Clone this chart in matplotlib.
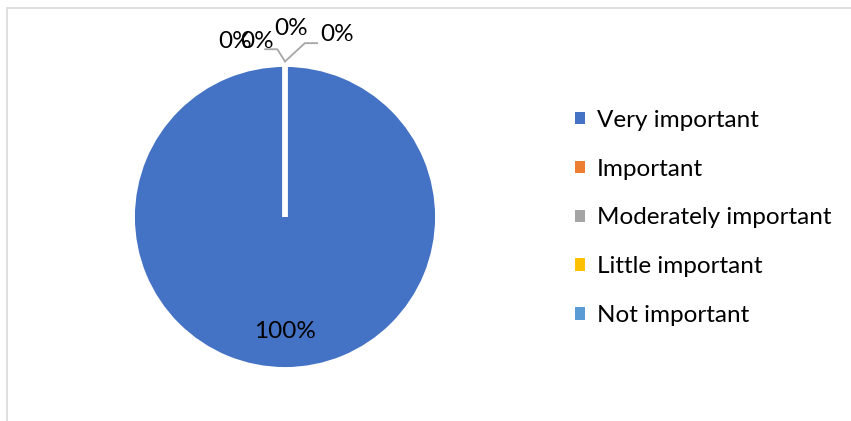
import matplotlib
matplotlib.use("Agg")
import matplotlib.pyplot as plt
from matplotlib.patches import Patch, Rectangle
import numpy as np

# survey answers (share of respondents, %)
categories = ["Very important", "Important", "Moderately important",
              "Little important", "Not important"]
values = [100, 0, 0, 0, 0]
colors = ["#4472C4", "#ED7D31", "#A5A5A5", "#FFC000", "#5B9BD5"]

# where the small 0% labels sit (axes data units, radius = 1)
zero_label_pos = [(-0.33, 1.15), (-0.18, 1.15), (0.04, 1.235), (0.34, 1.195)]

plt.rcParams['font.family'] = ['Lato', 'DejaVu Sans']
FS = 17.5

W, H = 851, 421
fig = plt.figure(figsize=(W / 100, H / 100), dpi=100)

# light frame round the chart area
fig.patches.append(Rectangle((7 / W, -0.1), 1.2, (H - 8) / H + 0.1,
                             transform=fig.transFigure, fill=False,
                             edgecolor="#D9D9D9", linewidth=1.2))

cx, cy, r = 285, 217, 152.5
ax = fig.add_axes([(cx - r) / W, (H - cy - r) / H, 2 * r / W, 2 * r / H])

wedges, _ = ax.pie(values, colors=colors, startangle=90, counterclock=False,
                   radius=1, center=(0, 0), frame=True,
                   wedgeprops=dict(edgecolor="white", linewidth=3.5))
ax.set_xlim(-1, 1)
ax.set_ylim(-1, 1)
ax.axis("off")

total = sum(values)
pcts = ["{:.0f}%".format(100 * v / total) for v in values]

# big slice label, on the middle of the wedge
w = wedges[0]
mid = np.deg2rad((w.theta1 + w.theta2) / 2)
ax.text(0.75 * np.cos(mid), 0.75 * np.sin(mid), pcts[0], ha="center",
        va="center", fontsize=FS, color="black")

# zero slices, labels pushed out above the pie
for (lx, ly), p in zip(zero_label_pos, pcts[1:]):
    ax.text(lx, ly, p, ha="center", va="center", fontsize=FS, color="black",
            clip_on=False)

# leader lines
ax.plot([0.0, -0.05, -0.13], [1.02, 1.1, 1.1], color="#A6A6A6", lw=1.3,
        clip_on=False)
ax.plot([0.0, 0.13, 0.21], [1.02, 1.14, 1.14], color="#A6A6A6", lw=1.3,
        clip_on=False)

handles = [Patch(facecolor=c, edgecolor="none") for c in colors]
fig.legend(handles, categories, loc="center left",
           bbox_to_anchor=(565 / W, (H - 218) / H), frameon=False,
           fontsize=FS, handlelength=0.42, handleheight=0.42,
           handletextpad=0.5, labelspacing=1.15, borderaxespad=0)

fig.savefig("out.png", dpi=100, facecolor="white")
